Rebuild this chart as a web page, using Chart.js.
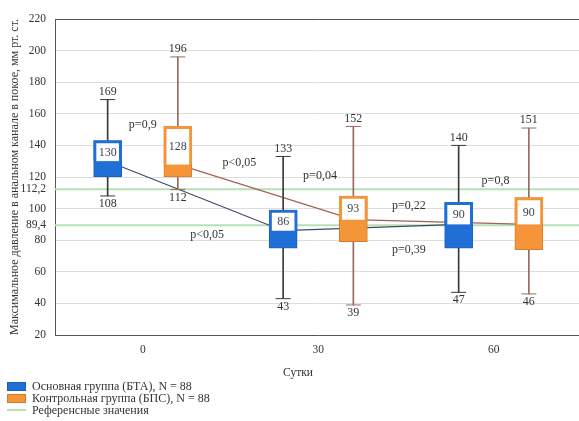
<!DOCTYPE html>
<html>
<head>
<meta charset="utf-8">
<script src="https://cdn.jsdelivr.net/npm/chart.js@4"></script>
<style>
  html, body { margin: 0; padding: 0; background: #fff; }
  #wrap { position: relative; width: 579px; height: 421px; overflow: hidden; }
  #legend { position: absolute; left: 7px; top: 380px; font: 12px 'Liberation Serif', serif; color: #333; }
  #legend .row { display: flex; align-items: center; height: 12px; white-space: nowrap; }
  #legend .sw { width: 19px; height: 9px; margin-right: 6px; box-sizing: border-box; }
  #legend .ln { width: 19px; height: 2px; margin-right: 6px; }
</style>
</head>
<body>
<div id="wrap">
  <canvas id="chart" width="590" height="421"></canvas>
  <div id="legend"></div>
</div>
<script>
// days of observation
const days = [0, 30, 60];

// main group (БТА)
const btaMin = [108, 43, 47];
const btaQ1  = [120, 75, 75];
const btaMed = [130, 86, 90];
const btaQ3  = [143, 99, 104];
const btaMax = [169, 133, 140];

// control group (БПС)
const bpsMin = [112, 39, 46];
const bpsQ1  = [120, 79, 74];
const bpsMed = [128, 93, 90];
const bpsQ3  = [152, 108, 107];
const bpsMax = [196, 152, 151];

// reference values
const refValues = [112.2, 89.4];

// y tick labels
const yTicks = [20, 40, 60, 80, 100, 120, 140, 160, 180, 200, 220];

// p-values and where they stand (day, mm)
const pTexts = ['p=0,9', 'p<0,05', 'p<0,05', 'p=0,04', 'p=0,22', 'p=0,39', 'p=0,8'];
const pDays  = [0, 16.5, 11, 30.3, 45.5, 45.5, 60.3];
const pVals  = [153, 129, 83.5, 120.5, 102, 74, 117.5];

const SHIFT = 6;
const FONT = "'Liberation Serif', serif";

const groups = [
    { label: 'Основная группа (БТА), N = 88', shift: -SHIFT, min: btaMin, q1: btaQ1, med: btaMed, q3: btaQ3, max: btaMax,
      fill: '#1f6fd6', edge: '#1b5fbf', whisker: '#3a3a3a', line: '#3b4a6a' },
    { label: 'Контрольная группа (БПС), N = 88', shift: SHIFT, min: bpsMin, q1: bpsQ1, med: bpsMed, q3: bpsQ3, max: bpsMax,
      fill: '#f4953a', edge: '#d97a2a', whisker: '#9a6a5c', line: '#a0644f' }
];

let datasets = [];

// white upper halves of the boxes (on top)
groups.forEach(g => {
    datasets.push({
        type: 'bar',
        data: days.map((d, i) => ({ x: d + g.shift, y: [g.med[i], g.q3[i]] })),
        backgroundColor: '#ffffff',
        borderColor: g.fill,
        borderWidth: { top: 3, left: 3, right: 3, bottom: 0 },
        borderSkipped: false,
        barThickness: 28,
        grouped: false
    });
});

// boxes q1..q3
groups.forEach(g => {
    datasets.push({
        type: 'bar',
        label: g.label,
        legend: true,
        data: days.map((d, i) => ({ x: d + g.shift, y: [g.q1[i], g.q3[i]] })),
        backgroundColor: g.fill,
        borderColor: g.edge,
        borderWidth: 1,
        borderSkipped: false,
        barThickness: 28,
        grouped: false
    });
});

// whiskers and caps
groups.forEach(g => {
    datasets.push({
        type: 'bar',
        data: days.map((d, i) => ({ x: d + g.shift, y: [g.min[i], g.max[i]] })),
        backgroundColor: g.whisker,
        barThickness: 1,
        grouped: false
    });
    datasets.push({
        type: 'scatter',
        data: days.map((d, i) => ({ x: d + g.shift, y: g.min[i] }))
            .concat(days.map((d, i) => ({ x: d + g.shift, y: g.max[i] }))),
        pointStyle: 'line',
        radius: 7.5,
        borderColor: g.whisker,
        borderWidth: 1
    });
});

// lines between medians
groups.forEach(g => {
    datasets.push({
        type: 'line',
        data: days.map((d, i) => ({ x: d + g.shift, y: g.med[i] })),
        borderColor: g.line,
        borderWidth: 1.2,
        pointRadius: 0,
        fill: false
    });
});

// reference lines
refValues.forEach((v, k) => {
    datasets.push({
        type: 'line',
        label: 'Референсные значения',
        legend: k === 0,
        data: [{ x: -15, y: v }, { x: 75, y: v }],
        borderColor: '#b6e1b6',
        borderWidth: 2,
        pointRadius: 0,
        fill: false
    });
});

const textPlugin = {
    id: 'texts',
    afterDatasetsDraw(chart) {
        const { ctx } = chart;
        const x = chart.scales.x, y = chart.scales.y;
        ctx.save();
        ctx.textAlign = 'center';
        ctx.textBaseline = 'middle';
        ctx.font = '12px ' + FONT;

        groups.forEach(g => {
            days.forEach((d, i) => {
                let px = x.getPixelForValue(d + g.shift);
                ctx.fillStyle = '#333';
                ctx.fillText(g.max[i], px, y.getPixelForValue(g.max[i]) - 8);
                ctx.fillText(g.min[i], px, y.getPixelForValue(g.min[i]) + 8);
                let top = y.getPixelForValue(g.q3[i]) + 3;
                let bot = y.getPixelForValue(g.med[i]);
                ctx.fillStyle = '#3b4656';
                ctx.fillText(g.med[i], px, (top + bot) / 2);
            });
        });

        ctx.fillStyle = '#333';
        for (let i = 0; i < pTexts.length; i++) {
            ctx.fillText(pTexts[i], x.getPixelForValue(pDays[i]), y.getPixelForValue(pVals[i]));
        }

        // axis title
        ctx.font = '11.5px ' + FONT;
        ctx.fillText('Сутки', 298, 373);
        ctx.restore();
    }
};

const chart = new Chart(document.getElementById('chart'), {
    type: 'bar',
    data: { datasets: datasets },
    plugins: [textPlugin],
    options: {
        responsive: false,
        animation: false,
        events: [],
        layout: { padding: { top: 19, right: 7, bottom: 39, left: 0 } },
        plugins: {
            legend: { display: false },
            tooltip: { enabled: false }
        },
        scales: {
            x: {
                type: 'linear',
                offset: false,
                min: -15,
                max: 75,
                afterBuildTicks: s => { s.ticks = days.map(v => ({ value: v })); },
                afterFit: s => { s.height = 47; },
                grid: { color: 'rgba(0,0,0,0)', drawTicks: false },
                border: { display: true, color: '#555', width: 1 },
                ticks: { padding: 8, color: '#333', font: { family: FONT, size: 11.5 } }
            },
            y: {
                type: 'linear',
                min: 20,
                max: 220,
                afterBuildTicks: s => { s.ticks = yTicks.concat(refValues).map(v => ({ value: v })); },
                afterFit: s => { s.width = 55; },
                grid: {
                    drawTicks: false,
                    color: c => {
                        let v = c.tick ? c.tick.value : null;
                        if (v === 220) return '#555';
                        if (refValues.includes(v)) return 'rgba(0,0,0,0)';
                        return '#dedede';
                    }
                },
                border: { display: true, color: '#555', width: 1 },
                ticks: {
                    autoSkip: false,
                    padding: 9,
                    color: '#333',
                    font: { family: FONT, size: 11.5 },
                    callback: v => String(v).replace('.', ',')
                },
                title: {
                    display: true,
                    text: 'Максимальное давление в анальном канале в покое, мм рт. ст.',
                    color: '#333',
                    font: { family: FONT, size: 12 },
                    padding: { top: 8, bottom: 0 }
                }
            }
        }
    }
});

// legend below the plot, one row per item
const legendBox = document.getElementById('legend');
chart.data.datasets.forEach(ds => {
    if (!ds.legend) return;
    let row = document.createElement('div');
    row.className = 'row';
    let sw = document.createElement('span');
    if (ds.type === 'bar') {
        sw.className = 'sw';
        sw.style.background = ds.backgroundColor;
        sw.style.border = '1px solid ' + ds.borderColor;
    } else {
        sw.className = 'ln';
        sw.style.background = ds.borderColor;
    }
    row.appendChild(sw);
    row.appendChild(document.createTextNode(ds.label));
    legendBox.appendChild(row);
});
</script>
</body>
</html>
